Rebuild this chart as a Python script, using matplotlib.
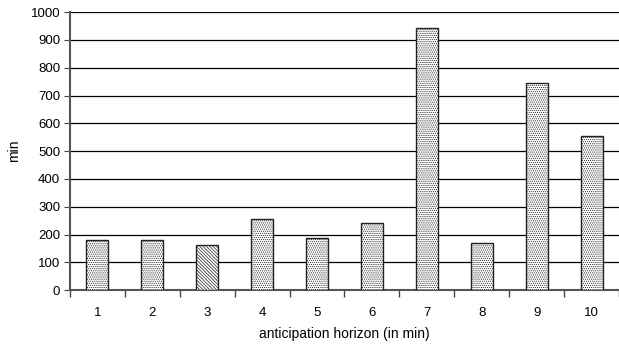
import matplotlib.pyplot as plt
import numpy as np

plt.rcParams['font.family'] = ['Liberation Sans', 'DejaVu Sans']

horizons = [1, 2, 3, 4, 5, 6, 7, 8, 9, 10]
minutes = [180, 180, 163, 254, 187, 240, 942, 168, 745, 555]
hatches = ['........', '........', '\\\\\\\\\\\\\\\\\\\\', '........', '........',
           '........', '........', '........', '........', '........']

fig = plt.figure(figsize=(6.19, 3.47), dpi=100)
ax = fig.add_axes([0.113, 0.164, 0.887, 0.801])

ax.set_axisbelow(True)
ax.yaxis.grid(True, color='black', linewidth=0.9)

plt.rcParams['hatch.color'] = '#888888'
plt.rcParams['hatch.linewidth'] = 0.5
for x, y, h in zip(horizons, minutes, hatches):
    ax.bar(x, y, width=0.4, color='white', edgecolor='#222222', linewidth=1.0, hatch=h, zorder=3)

ax.set_xlim(0.5, 10.5)
ax.set_ylim(0, 1000)
ax.set_yticks(np.arange(0, 1001, 100))
ax.set_xticks(horizons)
ax.set_xticks(np.arange(0.5, 11, 1), minor=True)
ax.tick_params(axis='x', which='major', length=0, pad=12, labelsize=9.5)
ax.tick_params(axis='x', which='minor', length=5, color='#444444', width=1)
ax.tick_params(axis='y', length=4, color='#444444', labelsize=9.5, pad=3)

for side in ['top', 'right']:
    ax.spines[side].set_visible(False)
ax.spines['left'].set_color('#555555')
ax.spines['left'].set_linewidth(1.5)
ax.spines['bottom'].set_color('#555555')
ax.spines['bottom'].set_linewidth(1.5)

ax.set_xlabel('anticipation horizon (in min)', fontsize=10, labelpad=6)
ax.set_ylabel('min', fontsize=10, labelpad=7)

fig.savefig('out.png', dpi=100)
